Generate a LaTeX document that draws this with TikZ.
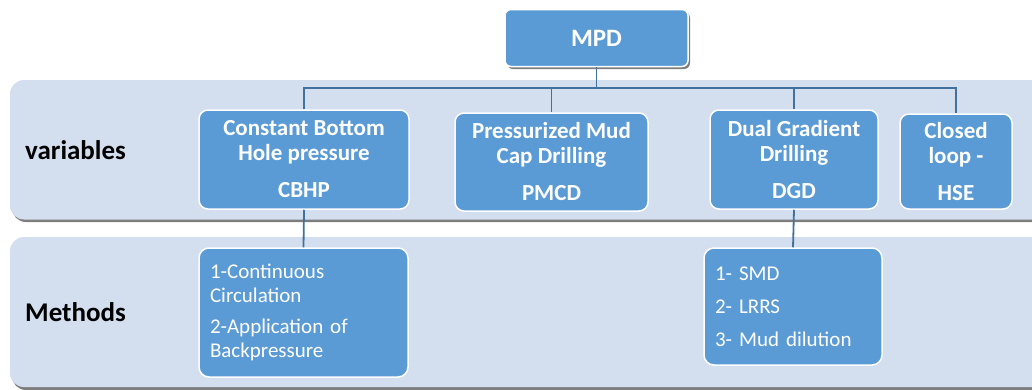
\documentclass[tikz,border=0pt]{standalone}
\usepackage{fontspec}
\setmainfont{Carlito}
\usetikzlibrary{shadows}
\definecolor{boxblue}{RGB}{91,155,213}
\definecolor{bandfill}{RGB}{211,222,239}
\definecolor{connblue}{RGB}{65,113,156}
\definecolor{shadowgray}{RGB}{125,125,125}
\tikzset{
  band/.style={fill=bandfill, rounded corners=14pt},
  bandshadow/.style={fill=shadowgray, rounded corners=14pt},
  vbox/.style={draw=white, line width=1.5pt, fill=boxblue, rounded corners=9pt,
    text=white, font=\bfseries\fontsize{23}{25}\selectfont, align=center,
    inner sep=0pt},
  mbox/.style={draw=white, line width=1.5pt, fill=boxblue, rounded corners=10pt,
    text=white, font=\fontsize{21}{24}\selectfont, align=left,
    inner xsep=11pt, inner ysep=0pt},
  rowlabel/.style={anchor=west, inner sep=0pt, font=\bfseries\fontsize{27}{30}\selectfont, text=black},
  conn/.style={draw=connblue, line width=1.8pt},
}
\begin{document}
\begin{tikzpicture}[x=1pt,y=-1pt]
\clip (0,0) rectangle (1032,389);
% bands
\fill[bandshadow] (12,83) rectangle (1060,222);
\fill[band] (10,80) rectangle (1060,219.5);
\fill[bandshadow] (12,240) rectangle (1060,390);
\fill[band] (10,237) rectangle (1060,387);
% row labels
\node[rowlabel] (lvar) at (25,150) {variables};
\node[rowlabel] (lmeth) at (25,312) {Methods};
% top node
\node[vbox, font=\bfseries\fontsize{25}{28}\selectfont, minimum width=183pt, minimum height=57pt,
  rounded corners=6pt, drop shadow={shadow xshift=2pt, shadow yshift=-2.5pt, fill=shadowgray, opacity=1}]
  (mpd) at (596.5,38) {MPD};
% variable nodes
\node[vbox, minimum width=210pt, minimum height=99pt] (cbhp) at (304,159.5)
  {Constant Bottom\\Hole pressure\\[12pt]CBHP};
\node[vbox, minimum width=193pt, minimum height=98pt] (pmcd) at (551.5,162)
  {Pressurized Mud\\Cap Drilling\\[12pt]PMCD};
\node[vbox, minimum width=168pt, minimum height=99pt] (dgd) at (794,159.5)
  {Dual Gradient\\Drilling\\[12pt]DGD};
\node[vbox, minimum width=112pt, minimum height=95pt] (hse) at (956,161.5)
  {Closed\\loop -\\[12pt]HSE};
% method nodes
\node[mbox, text width=187pt, minimum height=129pt] (m1) at (303.5,312.5)
  {1-Continuous\\Circulation\\[7pt]2-Application of\\Backpressure};
\node[mbox, text width=156pt, minimum height=117pt] (m2) at (793,306.5)
  {1- SMD\\[9pt]2- LRRS\\[9pt]3- Mud dilution};
% connectors
\coordinate (bus) at (596.5,88);
\begin{scope}[on background layer/.try]
\end{scope}
\draw[conn] (mpd.south) -- (mpd.south |- bus);
\draw[conn] (cbhp.north) -- (cbhp.north |- bus) -- (hse.north |- bus) -- (hse.north);
\draw[conn] (pmcd.north) -- (pmcd.north |- bus);
\draw[conn] (dgd.north) -- (dgd.north |- bus);
\draw[conn] (cbhp.south) -- (m1.north);
\draw[conn] (dgd.south) -- (m2.north);
\end{tikzpicture}
\end{document}
